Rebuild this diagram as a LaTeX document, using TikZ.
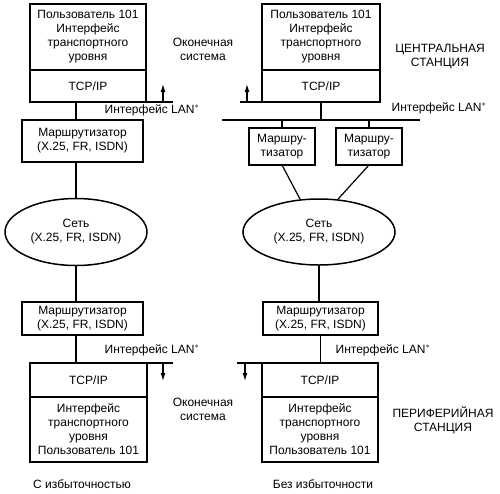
\documentclass[tikz,border=0pt]{standalone}
\usepackage{fontspec}
\setmainfont{Liberation Sans}
\usetikzlibrary{arrows.meta,positioning,shapes.geometric}
\tikzset{
	box/.style={draw,rectangle,align=center,line width=1.5pt,inner sep=0pt,outer sep=0pt},
	net/.style={draw,ellipse,align=center,line width=1.5pt,inner sep=0pt},
	lbl/.style={align=center},
	wire/.style={line width=1.2pt},
	arr/.style={-{Latex[length=8pt,width=5pt]},line width=1.2pt}
}
\begin{document}
\begin{tikzpicture}[x=1pt,y=-1pt,font=\fontsize{12}{14}\selectfont]
	\useasboundingbox (0,0) rectangle (500,493);
	% left: with redundancy
	\node[box,minimum width=116pt,minimum height=66pt,anchor=north west] (usrL) at (30,4) {Пользователь 101\\Интерфейс\\транспортного\\уровня};
	\node[box,minimum width=116pt,minimum height=32pt,below=0pt of usrL] (tcpL) {TCP/IP};
	\node[box,minimum width=121pt,minimum height=42pt,anchor=north west] (rtrL) at (22,120) {Маршрутизатор\\(X.25, FR, ISDN)};
	\node[net,minimum width=142pt,minimum height=67pt] (netL) at (76,232) {Сеть\\(X.25, FR, ISDN)};
	\node[box,minimum width=121pt,minimum height=33pt,anchor=north west] (rtrLb) at (22,302) {Маршрутизатор\\(X.25, FR, ISDN)};
	\node[box,minimum width=117pt,minimum height=34pt,anchor=north west] (tcpLb) at (30,363) {TCP/IP};
	\node[box,minimum width=117pt,minimum height=65pt,below=0pt of tcpLb] (usrLb) {Интерфейс\\транспортного\\уровня\\Пользователь 101};
	\coordinate (stubL) at (173,102);
	\coordinate (upL) at (163,84);
	\coordinate (stubLb) at (173,363);
	\coordinate (dnLb) at (163,381);
	
	\draw[wire] (tcpL.south -| netL) -- (rtrL.north -| netL);
	\draw[wire] (rtrL.south -| netL) -- (netL.north);
	\draw[wire] (netL.south) -- (rtrLb.north -| netL);
	\draw[wire] (rtrLb.south -| netL) -- (tcpLb.north -| netL);
	\draw[wire] (tcpL.south east) -- (stubL);
	\draw[arr] (upL |- tcpL.south) -- (upL);
	\draw[wire] (tcpLb.north east) -- (stubLb);
	\draw[arr] (dnLb |- tcpLb.north) -- (dnLb);
	
	% right: without redundancy
	\node[box,minimum width=118pt,minimum height=66pt,anchor=north west] (usrR) at (262,4) {Пользователь 101\\Интерфейс\\транспортного\\уровня};
	\node[box,minimum width=118pt,minimum height=32pt,below=0pt of usrR] (tcpR) {TCP/IP};
	\coordinate (lanR) at (222,120);
	\coordinate (lanRe) at (420,120);
	\node[box,minimum width=66pt,minimum height=37pt,anchor=north west] (rtrRa) at (249,128) {Маршру-\\тизатор};
	\node[box,minimum width=66pt,minimum height=37pt,anchor=north west] (rtrRb) at (336,128) {Маршру-\\тизатор};
	\node[net,minimum width=152pt,minimum height=66pt] (netR) at (319,232) {Сеть\\(X.25, FR, ISDN)};
	\node[box,minimum width=115pt,minimum height=33pt,anchor=north west] (rtrRc) at (263,302) {Маршрутизатор\\(X.25, FR, ISDN)};
	\node[box,minimum width=116pt,minimum height=34pt,anchor=north west] (tcpRb) at (262,363) {TCP/IP};
	\node[box,minimum width=116pt,minimum height=65pt,below=0pt of tcpRb] (usrRb) {Интерфейс\\транспортного\\уровня\\Пользователь 101};
	\coordinate (stubR) at (240,102);
	\coordinate (upR) at (247,84);
	\coordinate (stubRb) at (237,363);
	\coordinate (dnRb) at (245,381);
	
	\draw[wire] (tcpR.south) -- (tcpR.south |- lanR);
	\draw[wire] (lanR) -- (lanRe);
	\draw[wire] (rtrRa.north |- lanR) -- (rtrRa.north);
	\draw[wire] (rtrRb.north |- lanR) -- (rtrRb.north);
	\draw[wire] (rtrRa.south) -- (netR.120);
	\draw[wire] (rtrRb.south) -- (netR.60);
	\draw[wire] (netR.south) -- (rtrRc.north -| netR.south);
	\draw[wire] (rtrRc.south) -- (tcpRb.north -| rtrRc.south);
	\draw[wire] (stubR) -- (tcpR.south west);
	\draw[arr] (upR |- tcpR.south) -- (upR);
	\draw[wire] (stubRb) -- (tcpRb.north west);
	\draw[arr] (dnRb |- tcpRb.north) -- (dnRb);
	
	% labels
	\node[lbl] (endL) at (203,49) {Оконечная\\система};
	\node[lbl] (endLb) at (203,409) {Оконечная\\система};
	\node[lbl] (cen) at (440,57) {ЦЕНТРАЛЬНАЯ\\СТАНЦИЯ};
	\node[lbl] (per) at (443,420) {ПЕРИФЕРИЙНАЯ\\СТАНЦИЯ};
	\node[lbl] (lanL) at (152,110) {Интерфейс LAN$^*$};
	\node[lbl] (lanLb) at (152,350) {Интерфейс LAN$^*$};
	\node[lbl] (lanRt) at (439,108) {Интерфейс LAN$^*$};
	\node[lbl] (lanRb) at (383,350) {Интерфейс LAN$^*$};
	\node[lbl] (redL) at (82,484) {С избыточностью};
	\node[lbl] (redR) at (323,484) {Без избыточности};
\end{tikzpicture}
\end{document}
